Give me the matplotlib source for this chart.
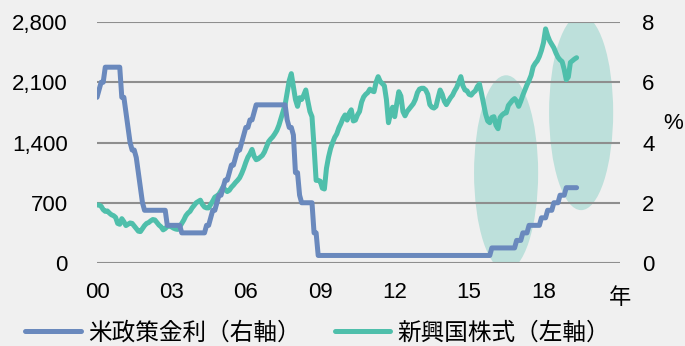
import numpy as np
import matplotlib
matplotlib.use('Agg')
import matplotlib.pyplot as plt
from matplotlib.patches import Ellipse
from matplotlib.ticker import FuncFormatter

plt.rcParams['font.family'] = ['Liberation Sans', 'Noto Sans CJK JP', 'DejaVu Sans']

# monthly data, Jan 2000 .. May 2019
fed_rate = [
    5.5, 5.75, 6.0, 6.0, 6.5, 6.5, 6.5, 6.5, 6.5, 6.5, 6.5, 6.5,            # 2000
    5.5, 5.5, 5.0, 4.5, 4.0, 3.75, 3.75, 3.5, 3.0, 2.5, 2.0, 1.75,         # 2001
    1.75, 1.75, 1.75, 1.75, 1.75, 1.75, 1.75, 1.75, 1.75, 1.75, 1.25, 1.25,  # 2002
    1.25, 1.25, 1.25, 1.25, 1.25, 1.0, 1.0, 1.0, 1.0, 1.0, 1.0, 1.0,       # 2003
    1.0, 1.0, 1.0, 1.0, 1.0, 1.25, 1.25, 1.5, 1.75, 1.75, 2.0, 2.25,       # 2004
    2.25, 2.5, 2.75, 2.75, 3.0, 3.25, 3.25, 3.5, 3.75, 3.75, 4.0, 4.25,    # 2005
    4.5, 4.5, 4.75, 4.75, 5.0, 5.25, 5.25, 5.25, 5.25, 5.25, 5.25, 5.25,   # 2006
    5.25, 5.25, 5.25, 5.25, 5.25, 5.25, 5.25, 5.25, 4.75, 4.5, 4.5, 4.25,  # 2007
    3.0, 3.0, 2.25, 2.0, 2.0, 2.0, 2.0, 2.0, 2.0, 1.0, 1.0, 0.25,          # 2008
    0.25, 0.25, 0.25, 0.25, 0.25, 0.25, 0.25, 0.25, 0.25, 0.25, 0.25, 0.25,  # 2009
    0.25, 0.25, 0.25, 0.25, 0.25, 0.25, 0.25, 0.25, 0.25, 0.25, 0.25, 0.25,  # 2010
    0.25, 0.25, 0.25, 0.25, 0.25, 0.25, 0.25, 0.25, 0.25, 0.25, 0.25, 0.25,  # 2011
    0.25, 0.25, 0.25, 0.25, 0.25, 0.25, 0.25, 0.25, 0.25, 0.25, 0.25, 0.25,  # 2012
    0.25, 0.25, 0.25, 0.25, 0.25, 0.25, 0.25, 0.25, 0.25, 0.25, 0.25, 0.25,  # 2013
    0.25, 0.25, 0.25, 0.25, 0.25, 0.25, 0.25, 0.25, 0.25, 0.25, 0.25, 0.25,  # 2014
    0.25, 0.25, 0.25, 0.25, 0.25, 0.25, 0.25, 0.25, 0.25, 0.25, 0.25, 0.5,   # 2015
    0.5, 0.5, 0.5, 0.5, 0.5, 0.5, 0.5, 0.5, 0.5, 0.5, 0.5, 0.75,           # 2016
    0.75, 0.75, 1.0, 1.0, 1.0, 1.25, 1.25, 1.25, 1.25, 1.25, 1.25, 1.5,    # 2017
    1.5, 1.5, 1.75, 1.75, 1.75, 2.0, 2.0, 2.0, 2.25, 2.25, 2.25, 2.5,      # 2018
    2.5, 2.5, 2.5, 2.5, 2.5,                                               # 2019
]

em_stocks = [
    674, 674, 660, 620, 600, 605, 580, 560, 550, 530, 460, 450,            # 2000
    515, 480, 435, 450, 465, 460, 430, 400, 370, 365, 400, 435,            # 2001
    460, 470, 490, 505, 500, 470, 440, 420, 385, 400, 425, 435,            # 2002
    420, 405, 395, 390, 420, 460, 500, 550, 580, 600, 640, 670,            # 2003
    700, 715, 730, 680, 650, 640, 640, 680, 720, 765, 780, 800,            # 2004
    840, 885, 850, 830, 845, 880, 905, 935, 960, 990, 1040, 1100,          # 2005
    1170, 1230, 1270, 1320, 1240, 1200, 1210, 1230, 1250, 1290, 1350, 1410,  # 2006
    1440, 1465, 1500, 1540, 1600, 1680, 1760, 1840, 1980, 2120, 2200, 2050,  # 2007
    1900, 1820, 1920, 1900, 1950, 2010, 1880, 1760, 1700, 1350, 960, 960,    # 2008
    950, 870, 860, 1100, 1230, 1330, 1400, 1460, 1500, 1570, 1620, 1680,     # 2009
    1720, 1660, 1740, 1780, 1650, 1660, 1720, 1760, 1870, 1930, 1960, 1980,  # 2010
    2020, 2000, 1990, 2100, 2165, 2110, 2085, 2060, 1900, 1630, 1740, 1810,  # 2011
    1700, 1850, 1990, 1940, 1760, 1710, 1760, 1790, 1820, 1850, 1900, 1980,  # 2012
    2020, 2030, 2030, 2010, 1960, 1840, 1810, 1800, 1820, 1920, 2010, 1960,  # 2013
    1880, 1840, 1880, 1920, 1950, 2000, 2040, 2100, 2165, 2060, 2010, 2000,  # 2014
    1960, 1950, 1980, 2000, 2050, 2080, 1970, 1850, 1730, 1650, 1630, 1690,  # 2015
    1700, 1600, 1560, 1690, 1720, 1740, 1745, 1830, 1860, 1890, 1910, 1880,  # 2016
    1820, 1880, 1950, 2010, 2070, 2120, 2180, 2280, 2320, 2350, 2400, 2470,  # 2017
    2560, 2720, 2640, 2580, 2540, 2500, 2440, 2390, 2360, 2340, 2250, 2130,  # 2018
    2160, 2330, 2350, 2370, 2385,                                            # 2019
]

year_labels = ['00', '03', '06', '09', '12', '15', '18']
left_ticks = [0, 700, 1400, 2100, 2800]
right_ticks = [0, 2, 4, 6, 8]

bg = '#f0f0f0'
blue = '#6a89bd'
teal = '#4fbfab'

fig = plt.figure(figsize=(6.85, 3.46), dpi=100, facecolor=bg)
ax = fig.add_axes([97/685, 1 - 263/346, (620 - 97)/685, (263 - 22)/346])
ax.set_facecolor(bg)
ax2 = ax.twinx()

months = np.arange(len(em_stocks))

# highlight ellipses (behind gridlines)
for cx, cy in [(197.9, 1046), (234.2, 1749)]:
    ax.add_patch(Ellipse((cx, cy), 31, 2270, facecolor='#bde0db',
                         edgecolor='none', zorder=0.5))

ax.plot(months, em_stocks, color=teal, lw=3.6, solid_capstyle='round',
        solid_joinstyle='round', label='新興国株式（左軸）', zorder=2)
ax2.plot(months, fed_rate, color=blue, lw=3.6, solid_capstyle='round',
         solid_joinstyle='round', label='米政策金利（右軸）', zorder=2)

ax.set_xlim(0, 253)
ax.set_ylim(0, 2800)
ax2.set_ylim(0, 8)
ax.set_xticks(np.arange(len(year_labels)) * 36)
ax.set_xticklabels(year_labels)
ax.set_yticks(left_ticks)
ax.yaxis.set_major_formatter(FuncFormatter(lambda v, p: f'{int(v):,}'))
ax2.set_yticks(right_ticks)

ax.grid(axis='y', color='#8e8e8e', lw=1.5, zorder=1)
ax.grid(axis='x', visible=False)

for a in (ax, ax2):
    for s in a.spines.values():
        s.set_visible(False)
ax.tick_params(axis='x', length=0, pad=14, labelsize=16)
ax.tick_params(axis='y', length=0, pad=21, labelsize=16)
ax2.tick_params(axis='y', length=0, pad=16, labelsize=16)

fig.text(620/685, 1 - 298/346, '年', fontsize=16, ha='center', va='center')
fig.text(673/685, 1 - 124/346, '%', fontsize=16, ha='center', va='center')

handles = ax2.get_lines() + ax.get_lines()
fig.legend(handles, [h.get_label() for h in handles], ncol=2, loc='center',
           bbox_to_anchor=(0.4635, 0.037), frameon=False, fontsize=17,
           handlelength=2.35, handletextpad=0.3, columnspacing=1.45)

fig.savefig('out.png', dpi=100, facecolor=bg)
